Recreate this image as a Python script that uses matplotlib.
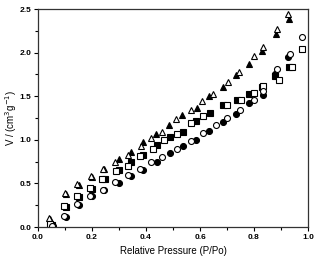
import matplotlib
matplotlib.use("Agg")
import matplotlib.pyplot as plt
from matplotlib.ticker import MultipleLocator

plt.rcParams['font.family'] = ['Liberation Sans', 'DejaVu Sans']

# Open triangles
tri_o_x = [0.04, 0.10, 0.145, 0.195, 0.242, 0.287, 0.335, 0.38, 0.42, 0.46, 0.51, 0.565, 0.606, 0.647, 0.705, 0.746, 0.80, 0.835, 0.884, 0.927]
tri_o_y = [0.10, 0.39, 0.49, 0.59, 0.67, 0.74, 0.83, 0.93, 1.02, 1.09, 1.24, 1.34, 1.44, 1.53, 1.66, 1.78, 1.96, 2.06, 2.27, 2.44]
# Filled triangles
tri_f_x = [0.045, 0.105, 0.15, 0.20, 0.245, 0.30, 0.343, 0.39, 0.437, 0.486, 0.535, 0.588, 0.634, 0.684, 0.733, 0.78, 0.83, 0.88, 0.93]
tri_f_y = [0.09, 0.38, 0.48, 0.57, 0.66, 0.78, 0.86, 0.97, 1.07, 1.17, 1.28, 1.37, 1.50, 1.61, 1.74, 1.87, 2.02, 2.21, 2.39]
# Open squares
sq_o_x = [0.044, 0.097, 0.143, 0.193, 0.236, 0.288, 0.332, 0.378, 0.425, 0.467, 0.516, 0.565, 0.612, 0.70, 0.75, 0.80, 0.832, 0.894, 0.94, 0.977]
sq_o_y = [0.03, 0.24, 0.35, 0.45, 0.55, 0.645, 0.70, 0.81, 0.90, 1.00, 1.07, 1.19, 1.27, 1.40, 1.46, 1.54, 1.62, 1.69, 1.83, 2.04]
# Filled squares
sq_f_x = [0.05, 0.105, 0.15, 0.20, 0.248, 0.30, 0.343, 0.39, 0.44, 0.49, 0.538, 0.584, 0.637, 0.686, 0.736, 0.78, 0.83, 0.878, 0.93]
sq_f_y = [0.02, 0.23, 0.34, 0.44, 0.55, 0.65, 0.74, 0.83, 0.94, 1.03, 1.09, 1.21, 1.31, 1.40, 1.46, 1.53, 1.60, 1.73, 1.84]
# Open circles
ci_o_x = [0.05, 0.097, 0.143, 0.193, 0.24, 0.285, 0.335, 0.378, 0.42, 0.46, 0.516, 0.565, 0.61, 0.66, 0.70, 0.748, 0.80, 0.835, 0.886, 0.933, 0.977]
ci_o_y = [0.01, 0.13, 0.26, 0.36, 0.43, 0.52, 0.60, 0.67, 0.75, 0.80, 0.89, 0.99, 1.08, 1.17, 1.25, 1.34, 1.46, 1.56, 1.81, 1.98, 2.18]
# Filled circles
ci_f_x = [0.055, 0.105, 0.15, 0.20, 0.245, 0.30, 0.343, 0.39, 0.44, 0.49, 0.536, 0.584, 0.634, 0.684, 0.733, 0.78, 0.832, 0.878, 0.927]
ci_f_y = [0.01, 0.12, 0.25, 0.35, 0.42, 0.51, 0.58, 0.65, 0.75, 0.845, 0.93, 1.00, 1.10, 1.20, 1.30, 1.42, 1.51, 1.76, 1.95]

fig = plt.figure(figsize=(3.19, 2.60), dpi=100)
ax = fig.add_axes([38/319, 1 - 227/260, 270/319, 218/260])

ms = 4.6
mew = 0.8
ax.plot(tri_f_x, tri_f_y, linestyle='none', marker='^', ms=ms + 0.4, mfc='black', mec='black', mew=mew)
ax.plot(tri_o_x, tri_o_y, linestyle='none', marker='^', ms=ms + 0.4, mfc='white', mec='black', mew=mew)
ax.plot(sq_f_x, sq_f_y, linestyle='none', marker='s', ms=ms - 0.4, mfc='black', mec='black', mew=mew)
ax.plot(sq_o_x, sq_o_y, linestyle='none', marker='s', ms=ms - 0.4, mfc='white', mec='black', mew=mew)
ax.plot(ci_f_x, ci_f_y, linestyle='none', marker='o', ms=ms - 0.3, mfc='black', mec='black', mew=mew)
ax.plot(ci_o_x, ci_o_y, linestyle='none', marker='o', ms=ms - 0.3, mfc='white', mec='black', mew=mew)

ax.set_xlim(0.0, 1.0)
ax.set_ylim(0.0, 2.5)
ax.xaxis.set_major_locator(MultipleLocator(0.2))
ax.xaxis.set_minor_locator(MultipleLocator(0.1))
ax.yaxis.set_major_locator(MultipleLocator(0.5))
ax.yaxis.set_minor_locator(MultipleLocator(0.25))
ax.tick_params(which='major', direction='out', length=3, width=0.8, labelsize=6, pad=2)
ax.tick_params(which='minor', direction='out', length=2, width=0.8)
for lbl in ax.get_xticklabels() + ax.get_yticklabels():
    lbl.set_fontweight('bold')
for s in ax.spines.values():
    s.set_linewidth(0.9)
    s.set_color('#333333')

ax.set_xlabel('Relative Pressure (P/Po)', fontsize=7, labelpad=4)
ax.set_ylabel('V / (cm$^3$g$^{-1}$)', fontsize=7)
ax.yaxis.set_label_coords(-0.072, 0.5)

fig.savefig('out.png', dpi=100)
